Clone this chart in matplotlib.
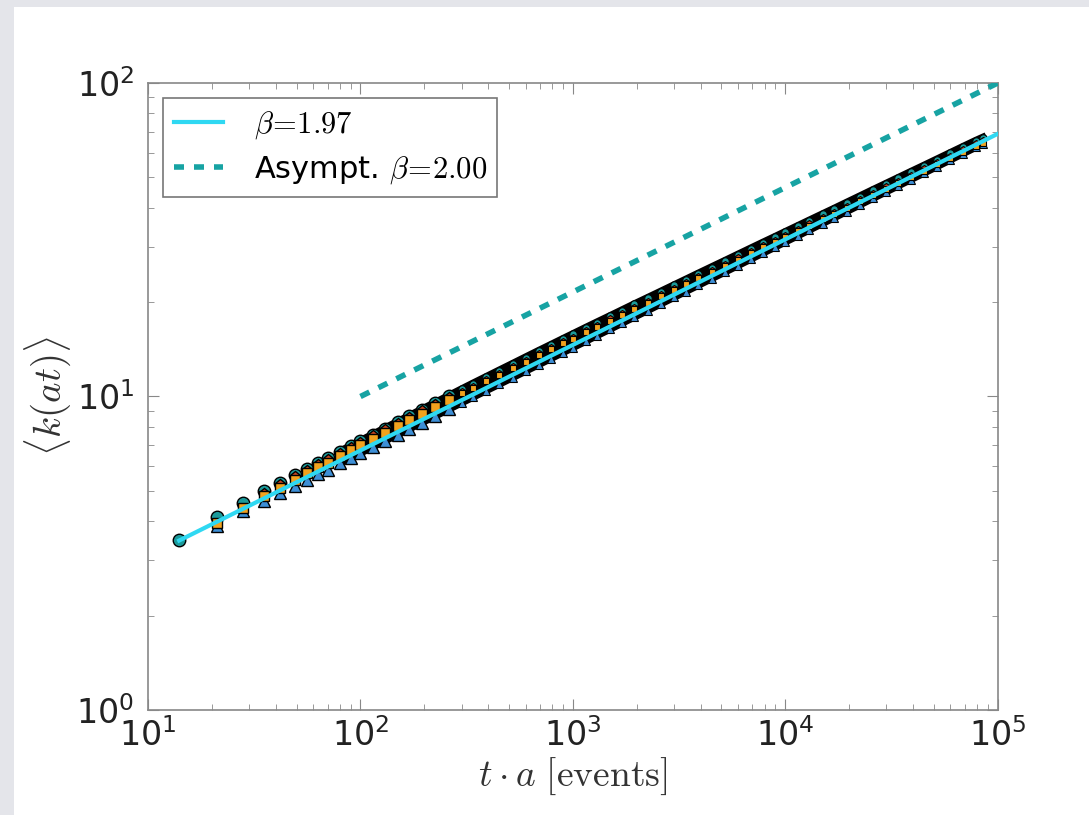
import numpy as np
import matplotlib
matplotlib.use("Agg")
import matplotlib.pyplot as plt
from matplotlib.patches import Rectangle

plt.rcParams['mathtext.fontset'] = 'cm'
plt.rcParams['font.family'] = ['DejaVu Sans']

# time axis (t*a, events)
t_vals = [14, 21, 28, 35, 42, 49, 56, 63, 70, 80, 90, 100, 115, 130, 150, 170,
          195, 225, 260, 300, 340, 390, 450, 520, 600, 690, 790, 900, 1000,
          1150, 1300, 1500, 1700, 1950, 2250, 2600, 3000, 3400, 3900, 4500,
          5200, 6000, 6900, 7900, 9000, 10000, 11500, 13000, 15000, 17000,
          19500, 22500, 26000, 30000, 34000, 39000, 45000, 52000, 60000,
          69000, 79000, 85000]

k_teal = [3.48, 4.12, 4.58, 4.98, 5.30, 5.60, 5.87, 6.12, 6.35, 6.66, 6.94,
          7.20, 7.56, 7.89, 8.29, 8.65, 9.08, 9.53, 10.02, 10.53, 10.99,
          11.51, 12.08, 12.68, 13.31, 13.95, 14.59, 15.24, 15.78, 16.53,
          17.21, 18.03, 18.79, 19.66, 20.59, 21.58, 22.61, 23.55, 24.63,
          25.80, 27.03, 28.32, 29.64, 30.97, 32.29, 33.42, 34.96, 36.38,
          38.10, 39.66, 41.48, 43.46, 45.57, 47.72, 49.70, 51.96, 54.41,
          57.03, 59.76, 62.55, 65.33, 66.80]

k_orange = [np.nan, 3.95, 4.42, 4.80, 5.12, 5.42, 5.68, 5.94, 6.15, 6.46,
            6.73, 7.00, 7.34, 7.67, 8.05, 8.40, 8.82, 9.25, 9.74, 10.23,
            10.68, 11.18, 11.73, 12.32, 12.92, 13.55, 14.17, 14.80, 15.31,
            16.03, 16.68, 17.47, 18.20, 19.04, 19.94, 20.89, 21.88, 22.78,
            23.82, 24.94, 26.13, 27.36, 28.62, 29.89, 31.16, 32.24, 33.72,
            35.09, 36.75, 38.26, 40.02, 41.93, 43.98, 46.08, 48.02, 50.22,
            52.58, 55.10, 57.72, 60.40, 63.06, 64.43]

k_red = [np.nan, np.nan, np.nan, 4.90, 5.22, 5.52, 5.79, 6.04, 6.26, 6.57,
         6.85, 7.11, 7.46, 7.79, 8.18, 8.54, 8.96, 9.40, 9.89, 10.39, 10.84,
         11.36, 11.92, 12.51, 13.12, 13.75, 14.38, 15.01, 15.54, 16.27,
         16.93, 17.74, 18.48, 19.33, 20.24, 21.20, 22.20, 23.12, 24.17,
         25.31, 26.52, 27.77, 29.05, 30.35, 31.65, 32.76, 34.27, 35.66,
         37.35, 38.90, 40.69, 42.64, 44.72, 46.85, 48.81, 51.05, 53.45,
         56.03, 58.72, 61.45, 64.20, 65.62]

k_blue = [np.nan, 3.86, 4.30, 4.63, 4.93, 5.19, 5.42, 5.64, 5.84, 6.12, 6.36,
          6.59, 6.91, 7.20, 7.55, 7.87, 8.25, 8.65, 9.09, 9.54, 9.95, 10.42,
          10.93, 11.47, 12.04, 12.62, 13.21, 13.80, 14.30, 14.99, 15.63,
          16.39, 17.10, 17.91, 18.79, 19.73, 20.71, 21.60, 22.62, 23.74,
          24.92, 26.15, 27.42, 28.70, 29.98, 31.08, 32.57, 33.95, 35.62,
          37.14, 38.91, 40.84, 42.89, 45.00, 46.94, 49.16, 51.57, 54.15,
          56.84, 59.58, 62.36, 63.88]

beta_fit = 1.97
amp_fit = 1.427
beta_asym = 2.00
t_fit = [14, 1e5]
t_asym = [100, 1e5]
k_asym_end = 100.0

t = np.array(t_vals)
kt, ko, kr, kb = map(np.array, (k_teal, k_orange, k_red, k_blue))

fig = plt.figure(figsize=(10.89, 8.15), dpi=100)
fig.patch.set_facecolor('white')
# gray screenshot frame on the left and top
fig.patches.append(Rectangle((0, 0), 14 / 1089, 1, transform=fig.transFigure,
                             facecolor='#e4e5ea', edgecolor='none', zorder=-1))
fig.patches.append(Rectangle((0, 1 - 7 / 815), 1, 7 / 815, transform=fig.transFigure,
                             facecolor='#e4e5ea', edgecolor='none', zorder=-1))

ax = fig.add_axes([0.136, 0.129, 0.780, 0.769])

# dense overlapping markers form a dark band at large t
dense = t >= 80
ax.fill_between(t[dense], kb[dense], kt[dense], color='k', lw=0, zorder=1)
ax.plot(t[dense], kt[dense], '-', color='k', lw=6, zorder=1)
ax.plot(t[dense], kb[dense], '-', color='k', lw=5, zorder=1)

styles = [(kb, '^', '#3d8fd6', 9), (kt, 'o', '#1b9a9a', 9),
          (kr, 'p', '#c8461e', 8), (ko, 's', '#f2a21e', 7)]
small = t >= 300
for k, m, c, ms in styles:
    ax.plot(t[~small], k[~small], m, color=c, mec='k', mew=1, ms=ms, zorder=2)
    ax.plot(t[small], k[small], m, color=c, mec='k', mew=0.8, ms=ms * 0.6, zorder=2)

tf = np.array(t_fit)
ax.plot(tf, amp_fit * tf ** (1 / (beta_fit + 1)), '-', color='#2fd8f2', lw=3,
        label=r'$\beta\!=\!1.97$', zorder=3)
ta = np.array(t_asym)
ax.plot(ta, k_asym_end * (ta / 1e5) ** (1 / (beta_asym + 1)), '--', dashes=(1.8, 1.8),
        color='#17a3a3', lw=4, label=r'Asympt. $\beta\!=\!2.00$', zorder=3)

ax.set_xscale('log')
ax.set_yscale('log')
ax.set_xlim(10, 1e5)
ax.set_ylim(1, 100)

for s in ax.spines.values():
    s.set_color('#888888')
    s.set_linewidth(1.2)
ax.tick_params(which='both', direction='in', top=True, right=True, colors='#888888',
               labelcolor='#222222')
ax.tick_params(which='major', length=8, labelsize=24)
ax.tick_params(which='minor', length=4)
ax.tick_params(axis='x', pad=6)
ax.tick_params(axis='y', pad=10)

ax.set_xlabel(r'$t\cdot a\ \mathrm{[events]}$', fontsize=27, labelpad=2, color='#333333')
ax.set_ylabel(r'$\langle k(at)\rangle$', fontsize=28, labelpad=2, color='#333333')

leg = ax.legend(loc='upper left', fontsize=22, frameon=True, fancybox=False,
                handlelength=1.6, handletextpad=1.0, borderpad=0.35,
                labelspacing=0.45, bbox_to_anchor=(0.0, 1.0))
leg.get_frame().set_edgecolor('#555555')
leg.get_frame().set_linewidth(1.2)

fig.savefig('out.png', dpi=100, facecolor=fig.get_facecolor())
